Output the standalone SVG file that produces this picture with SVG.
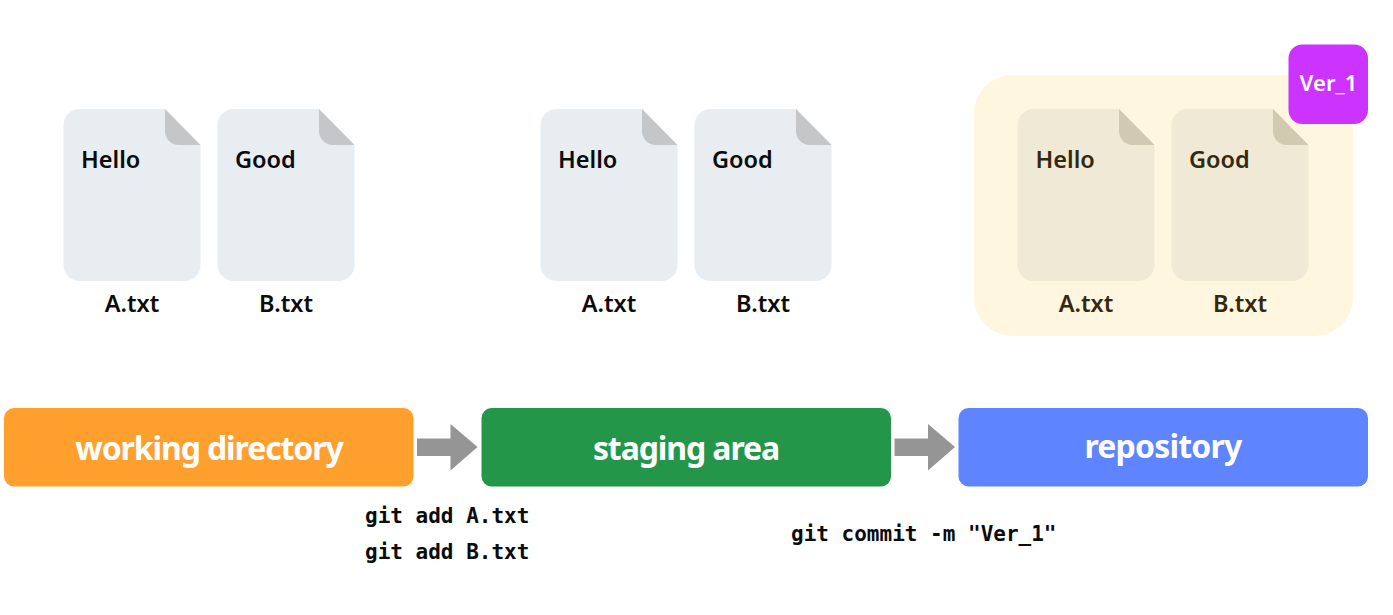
<svg xmlns="http://www.w3.org/2000/svg" width="1393" height="615" viewBox="0 0 1393 615">
<style>
text{font-family:"Noto Sans","Noto Sans CJK KR",sans-serif}
.t{font-size:23.500px;font-weight:600;fill:#0b0b0b}
.f{font-size:23.500px;font-weight:600;fill:#0b0b0b;text-anchor:middle}
.d .t,.d .f{fill:#33290f}
.b{font-size:32px;font-weight:700;fill:#fff;text-anchor:middle;letter-spacing:-1.100px}
.m{font-family:"DejaVu Sans Mono","Liberation Mono",monospace;font-size:21px;font-weight:700;fill:#0b0b0b}
.a{fill:#959595}
</style>
<defs>
<g id="doc">
<path d="M79 109H165L200.500 145V265A16 16 0 0 1 184.500 281H79.500A16 16 0 0 1 63.500 265V125A16 16 0 0 1 79.500 109Z" fill="#e8edf2"/>
<path d="M165 109L200.500 145H179A14 14 0 0 1 165 131Z" fill="#c4c6c8"/>
</g>
<g id="doc2">
<path d="M79 109H165L200.500 145V265A16 16 0 0 1 184.500 281H79.500A16 16 0 0 1 63.500 265V125A16 16 0 0 1 79.500 109Z" fill="#efe9d5"/>
<path d="M165 109L200.500 145H179A14 14 0 0 1 165 131Z" fill="#d1c9b0"/>
</g>
</defs>
<g id="wd-file-a"><use href="#doc"/><text class="t" x="81" y="168">Hello</text><text class="f" x="132" y="312">A.txt</text></g>
<g id="wd-file-b"><use href="#doc" x="154"/><text class="t" x="235" y="168">Good</text><text class="f" x="286" y="312">B.txt</text></g>
<g id="st-file-a"><use href="#doc" x="477"/><text class="t" x="558" y="168">Hello</text><text class="f" x="609" y="312">A.txt</text></g>
<g id="st-file-b"><use href="#doc" x="631"/><text class="t" x="712" y="168">Good</text><text class="f" x="763" y="312">B.txt</text></g>
<g id="repo-box"><rect x="974" y="75" width="379" height="261" rx="38" fill="#fff6df"/></g>
<g id="repo-file-a" class="d"><use href="#doc2" x="954"/><text class="t" x="1035.500" y="168">Hello</text><text class="f" x="1086" y="312">A.txt</text></g>
<g id="repo-file-b" class="d"><use href="#doc2" x="1108"/><text class="t" x="1189" y="168">Good</text><text class="f" x="1240" y="312">B.txt</text></g>
<g id="ver-badge"><rect x="1288.500" y="44.500" width="79.500" height="79.500" rx="14" fill="#cc33ff"/><text x="1328.500" y="90.500" font-size="22" font-weight="600" fill="#fff" text-anchor="middle">Ver_1</text></g>
<g id="working-directory"><rect x="4" y="408" width="409.500" height="78.500" rx="10" fill="#ff9f2e"/><text class="b" x="209" y="460">working directory</text></g>
<g id="staging-area"><rect x="481.500" y="408" width="409.500" height="78.500" rx="10" fill="#23964a"/><text class="b" x="686" y="460">staging area</text></g>
<g id="repository"><rect x="958.500" y="408" width="409.500" height="78.500" rx="10" fill="#5e84ff"/><text class="b" x="1163" y="458" style="letter-spacing:-.8px">repository</text></g>
<g id="connectors">
<path class="a" d="M417 438.500H450.500V424L477.500 447L450.500 470.500V456H417Z"/>
<path class="a" d="M894.500 438.500H928V424L955 447L928 470.500V456H894.500Z"/>
</g>
<g id="commands">
<text class="m" x="365" y="523">git add A.txt</text>
<text class="m" x="365" y="559">git add B.txt</text>
<text class="m" x="791" y="541">git commit -m "Ver_1"</text>
</g>
</svg>
